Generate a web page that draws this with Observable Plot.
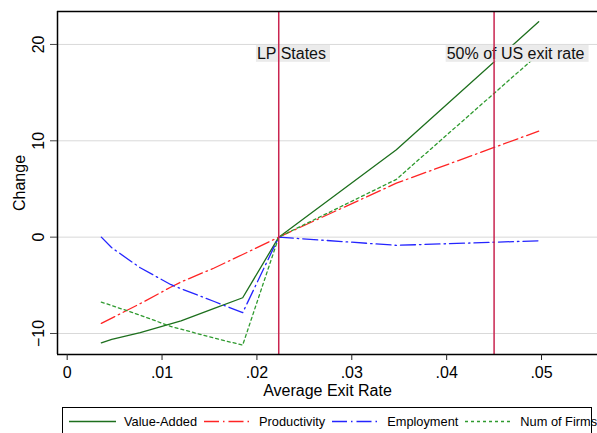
<!DOCTYPE html>
<html><head><meta charset="utf-8">
<script src="https://cdn.jsdelivr.net/npm/d3@7"></script>
<script src="https://cdn.jsdelivr.net/npm/@observablehq/plot@0.6"></script>
<style>
body{margin:0;background:#fff;overflow:hidden;font-family:"Liberation Sans",Arial,Helvetica,sans-serif;}
#wrap{position:relative;width:597px;height:433px;overflow:hidden;}
#legend{position:absolute;left:62px;top:407px;width:530px;height:40px;border:1px solid #000;box-sizing:border-box;font-size:12.8px;white-space:nowrap;overflow:visible;}
#legend .row{display:flex;align-items:center;height:15px;margin-top:6px;margin-left:6px;}
#legend .row > *{flex-shrink:0;}
#legend svg{display:block;margin-right:8px;}
#legend span{margin-right:7px;color:#000;}
</style>
</head><body>
<div id="wrap"><div id="chart"></div><div id="legend"><div class="row"></div></div></div>
<script>
// ---- data ----
const exitRate     = [0.0036, 0.0047, 0.0077, 0.0109, 0.0120, 0.0155, 0.0185, 0.0223, 0.0347, 0.0497];
const valueAdded   = [-10.97, -10.6, -9.92, -9.0, -8.7, -7.4, -6.29, 0, 9.08, 22.35];
const productivity = [-8.95, -8.4, -6.9, -5.2, -4.65, -3.2, -1.8, 0, 5.6, 11.0];
const employment   = [0, -1.1, -3.18, -4.91, -5.35, -6.68, -7.84, 0, -0.85, -0.38];
const numFirms     = [-6.74, -7.1, -8.1, -9.26, -9.55, -10.48, -11.2, 0, 6.0, 19.0];

const seriesNames  = ["Value-Added", "Productivity", "Employment", "Num of Firms"];
const seriesValues = [valueAdded, productivity, employment, numFirms];
const seriesColors = ["#1d6f1d", "#ff2424", "#2424ff", "#2f9a2f"];
const seriesDash   = [null, "15,4,1.5,4", "15,4,1.5,4", "3,3"];

const refLines   = [0.0223, 0.045];
const annotText  = ["LP States", "50% of US exit rate"];
const annotX     = [0.02, 0.04];
const annotY     = [20, 20];

const xTicks = [0, 0.01, 0.02, 0.03, 0.04, 0.05];
const yTicks = [-10, 0, 10, 20];
const xDomain = [-0.00102, 0.0559];
const yDomain = [-12.18, 23.42];

// ---- build ----
const table = [];
seriesNames.forEach((s, i) => exitRate.forEach((x, j) => table.push({series: s, x, y: seriesValues[i][j]})));
const annots = annotText.map((t, i) => ({text: t, x: annotX[i], y: annotY[i]}));
const fmtX = d => d === 0 ? "0" : d3.format(".2f")(d).replace(/^0/, "");

const lineMarks = seriesNames.map((s, i) => Plot.line(table.filter(d => d.series === s), {
  x: "x", y: "y", stroke: seriesColors[i], strokeWidth: 1.3,
  strokeDasharray: seriesDash[i] || undefined, strokeLinejoin: "round"
}));

const chart = Plot.plot({
  width: 597, height: 400,
  marginLeft: 57, marginRight: 0, marginTop: 11, marginBottom: 46,
  style: {fontFamily: "'Liberation Sans', Arial, Helvetica, sans-serif", fontSize: "16px", background: "#fff"},
  x: {domain: xDomain},
  y: {domain: yDomain},
  marks: [
    Plot.gridY(yTicks, {stroke: "#d9d9d9", strokeOpacity: 1, strokeWidth: 1}),
    ...lineMarks,
    Plot.text(annots, {x: "x", y: "y", text: "text", textAnchor: "start", lineAnchor: "top", dy: 3, fontSize: 16, fill: "#111"}),
    Plot.ruleX(refLines, {stroke: "#c9244f", strokeWidth: 1.5}),
    Plot.ruleX([xDomain[0]], {stroke: "#000", strokeWidth: 1.5}),
    Plot.ruleY(yDomain, {stroke: "#000", strokeWidth: 1.5}),
    Plot.axisX({ticks: xTicks, tickSize: 6, tickPadding: 6, tickFormat: fmtX, stroke: "#222", label: null}),
    Plot.axisY({ticks: yTicks, tickSize: 7, tickPadding: 7, tickRotate: -90, stroke: "#444", label: null}),
    Plot.text(["Average Exit Rate"], {frameAnchor: "bottom", dy: 36, lineAnchor: "middle", fontSize: 16}),
    Plot.text(["Change"], {frameAnchor: "left", dx: -38, rotate: -90, lineAnchor: "middle", textAnchor: "middle", fontSize: 16})
  ]
});
document.getElementById("chart").append(chart);

// background boxes behind annotation texts
const ns = "http://www.w3.org/2000/svg";
chart.querySelectorAll("text").forEach(t => {
  if (!annotText.includes(t.textContent)) return;
  const b = t.getBBox();
  const r = document.createElementNS(ns, "rect");
  r.setAttribute("x", b.x - 1);
  r.setAttribute("y", b.y);
  r.setAttribute("width", b.width + 5);
  r.setAttribute("height", b.height);
  r.setAttribute("fill", "#ebebeb");
  if (t.getAttribute("transform")) r.setAttribute("transform", t.getAttribute("transform"));
  t.parentNode.insertBefore(r, t);
});

// legend
const row = document.querySelector("#legend .row");
seriesNames.forEach((s, i) => {
  const svg = d3.create("svg").attr("width", 47).attr("height", 15);
  svg.append("line").attr("x1", 0).attr("x2", 47).attr("y1", 7.5).attr("y2", 7.5)
    .attr("stroke", seriesColors[i]).attr("stroke-width", 1.3)
    .attr("stroke-dasharray", seriesDash[i]);
  row.append(svg.node());
  const sp = document.createElement("span");
  sp.textContent = s;
  row.append(sp);
});
</script>
</body></html>
